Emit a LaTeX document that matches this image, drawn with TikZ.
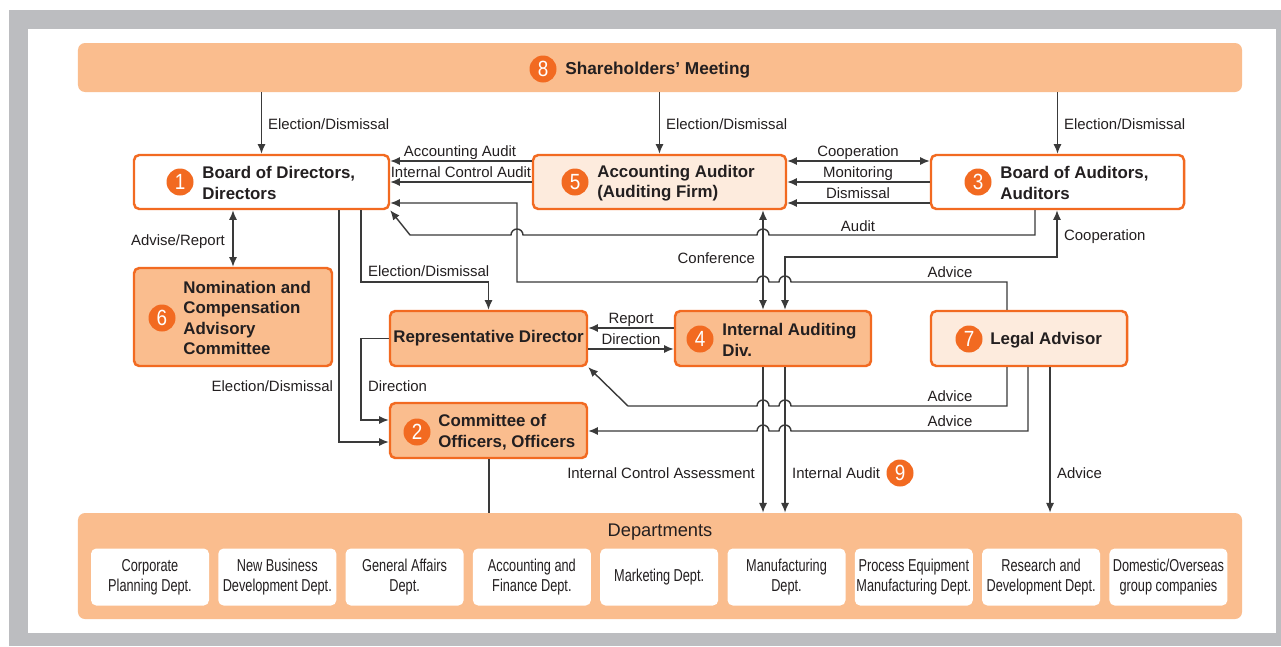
\documentclass[tikz,border=0pt]{standalone}
\usepackage{fontspec}
\setmainfont{Liberation Sans}
\newfontfamily\narrowfont[FakeStretch=0.74]{Liberation Sans}
\newfontfamily\numfont[FakeStretch=0.86]{Liberation Sans}
\usetikzlibrary{arrows.meta}

\definecolor{framegray}{HTML}{BCBDC0}
\definecolor{govorange}{HTML}{F26A21}
\definecolor{lightorange}{HTML}{FABD8E}
\definecolor{peach}{HTML}{FDEBDD}
\definecolor{linegray}{HTML}{3A3A3A}
\definecolor{ink}{HTML}{231F20}

\tikzset{
  band/.style={fill=lightorange, rounded corners=4pt, inner sep=0pt},
  box/.style={draw=govorange, line width=1.4pt, rounded corners=3pt, fill=lightorange, inner sep=0pt,
    font=\bfseries\fontsize{9.6}{11.6}\selectfont, text=ink},
  lightbox/.style={box, fill=peach},
  whitebox/.style={box, fill=white},
  deptbox/.style={fill=white, rounded corners=3pt, minimum width=23.6mm, minimum height=11.4mm, inner sep=0pt,
    align=center, font=\narrowfont\fontsize{9.8}{11.3}\selectfont, text=ink},
  num/.style={circle, fill=govorange, text=white, minimum size=5.4mm, inner sep=0pt,
    font=\numfont\fontsize{12.5}{12.5}\selectfont},
  title/.style={font=\bfseries\fontsize{9.6}{11.6}\selectfont, text=ink, align=left, anchor=west, inner sep=0pt},
  lbl/.style={font=\fontsize{8.5}{10}\selectfont, text=ink, inner sep=1pt, text height=6.3pt, text depth=0pt},
  conn/.style={draw=linegray, line width=0.8pt},
  arr/.style={conn, -{Latex[length=5.5pt,width=4.6pt]}},
  dbl/.style={conn, {Latex[length=5.5pt,width=4.6pt]}-{Latex[length=5.5pt,width=4.6pt]}}
}

\begin{document}
\begin{tikzpicture}[x=0.2mm, y=-0.2mm]
  \useasboundingbox (0,0) rectangle (1281,646);
  % frame
  \fill[framegray] (9,10) rectangle (1281,646);
  \fill[white] (28,29) rectangle (1276,633);

  % boxes
  \node[band, minimum width=232.8mm, minimum height=9.8mm] (sm) at (660,67.5) {};
  \node[band, minimum width=232.8mm, minimum height=21.2mm] (dept) at (660,566) {};
  \node[whitebox, minimum width=51mm, minimum height=10.8mm] (bod) at (261.5,182) {};
  \node[lightbox, minimum width=50.6mm, minimum height=10.8mm] (aa) at (659.5,182) {};
  \node[whitebox, minimum width=50.6mm, minimum height=10.8mm] (boa) at (1057.5,182) {};
  \node[box, minimum width=39.6mm, minimum height=19.6mm] (nom) at (233,317) {};
  \node[box, minimum width=39.4mm, minimum height=11mm] (rep) at (488.5,338.5) {Representative Director};
  \node[box, minimum width=39.2mm, minimum height=11mm] (iad) at (773,338.5) {};
  \node[lightbox, minimum width=39.2mm, minimum height=11mm] (legal) at (1029,338.5) {};
  \node[box, minimum width=39.4mm, minimum height=11mm] (coo) at (488.5,430.5) {};

  % numbers and titles
  \node[num] (n8) at (543,69) {8};
  \node[title, font=\bfseries\fontsize{9.8}{11.6}\selectfont] (smtxt) at (565,70.5) {Shareholders’ Meeting};
  \node[num] (n1) at (180,182) {1};
  \node[title] (bodtxt) at (202,183) {Board of Directors,\\Directors};
  \node[num] (n5) at (575,182) {5};
  \node[title] (aatxt) at (597,183) {Accounting Auditor\\(Auditing Firm)};
  \node[num] (n3) at (978,182) {3};
  \node[title] (boatxt) at (1000,183) {Board of Auditors,\\Auditors};
  \node[num] (n6) at (162,318) {6};
  \node[title] (nomtxt) at (183,318) {Nomination and\\Compensation\\Advisory\\Committee};
  \node[num] (n4) at (700,339) {4};
  \node[title] (iadtxt) at (722,340) {Internal Auditing\\Div.};
  \node[num] (n7) at (969,339) {7};
  \node[title] (legaltxt) at (990,340.5) {Legal Advisor};
  \node[num] (n2) at (417,432) {2};
  \node[title] (cootxt) at (438,432) {Committee of\\Officers, Officers};
  \node[num] (n9) at (900,473) {9};

  % departments
  \node[font=\fontsize{10.4}{12}\selectfont, text=ink] (depttxt) at (660,532) {Departments};
  \foreach \i/\txt in {0/{Corporate\\Planning Dept.}, 1/{New Business\\Development Dept.},
      2/{General Affairs\\Dept.}, 3/{Accounting and\\Finance Dept.}, 4/{Marketing Dept.},
      5/{Manufacturing\\Dept.}, 6/{Process Equipment\\Manufacturing Dept.},
      7/{Research and\\Development Dept.}, 8/{Domestic/Overseas\\group companies}}
    \node[deptbox] (d\i) at ({150+127.3*\i},577) {\txt};

  % shareholders' meeting
  \draw[arr] (sm.south -| bod.north) -- (bod.north);
  \draw[arr] (sm.south -| aa.north) -- (aa.north);
  \draw[arr] (sm.south -| boa.north) -- (boa.north);
  \node[lbl, anchor=west] (e1) at (266,124) {Election/Dismissal};
  \node[lbl, anchor=west] (e2) at (664,124) {Election/Dismissal};
  \node[lbl, anchor=west] (e3) at (1062,124) {Election/Dismissal};

  % accounting auditor
  \draw[arr] (aa.west |- 0,161) -- (bod.east |- 0,161);
  \draw[arr] (aa.west) -- (bod.east);
  \node[lbl] (acc) at (460,151) {Accounting Audit};
  \node[lbl] (ica) at (461,172) {Internal Control Audit};
  \draw[dbl] (aa.east |- 0,161) -- (boa.west |- 0,161);
  \draw[arr] (boa.west) -- (aa.east);
  \draw[arr] (boa.west |- 0,203) -- (aa.east |- 0,203);
  \node[lbl] (coop1) at (858,151) {Cooperation};
  \node[lbl] (mon) at (858,172) {Monitoring};
  \node[lbl] (dis) at (858,193) {Dismissal};

  % board of auditors
  \draw[arr] (boa.south -| 1035,0) -- (1035,235) -- (769,235) arc[start angle=0, end angle=-180, radius=6]
    -- (523,235) arc[start angle=0, end angle=-180, radius=6] -- (410,235) -- (bod.south east);
  \node[lbl] (aud) at (858,226) {Audit};
  \draw[dbl] (aa.south -| 763,0) -- (iad.north -| 763,0);
  \node[lbl, anchor=east] (conf) at (757,258) {Conference};
  \draw[dbl] (iad.north -| 785,0) -- (785,257) -- (1057,257) -- (boa.south -| 1057,0);
  \node[lbl, anchor=west] (coop2) at (1062,235) {Cooperation};

  % legal advisor
  \draw[arr] (legal.north -| 1007,0) -- (1007,282) -- (791,282) arc[start angle=0, end angle=-180, radius=6]
    -- (769,282) arc[start angle=0, end angle=-180, radius=6] -- (517,282) -- (517,203) -- (bod.east |- 0,203);
  \node[lbl] (adv1) at (950,272) {Advice};
  \draw[arr] (legal.south -| 1007,0) -- (1007,406) -- (791,406) arc[start angle=0, end angle=-180, radius=6]
    -- (769,406) arc[start angle=0, end angle=-180, radius=6] -- (628,406) -- (rep.south east);
  \node[lbl] (adv2) at (950,396) {Advice};
  \draw[arr] (legal.south -| 1028,0) -- (1028,431) -- (791,431) arc[start angle=0, end angle=-180, radius=6]
    -- (769,431) arc[start angle=0, end angle=-180, radius=6] -- (coo.east |- 0,431);
  \node[lbl] (adv3) at (950,421) {Advice};
  \draw[arr] (legal.south -| 1050,0) -- (dept.north -| 1050,0);
  \node[lbl, anchor=west] (adv4) at (1055,473) {Advice};

  % board of directors
  \draw[dbl] (bod.south -| 233,0) -- (nom.north -| 233,0);
  \node[lbl, anchor=east] (advrep) at (227,240) {Advise/Report};
  \draw[arr] (bod.south -| 361,0) -- (361,282) -- (rep.north |- 0,282) -- (rep.north);
  \node[lbl, anchor=west] (e4) at (366,271) {Election/Dismissal};
  \draw[arr] (bod.south -| 339,0) -- (339,442) -- (coo.west |- 0,442);
  \node[lbl, anchor=east] (e5) at (335,386) {Election/Dismissal};

  % representative director
  \draw[arr] (rep.west) -- (361,338.5) -- (361,420) -- (coo.west |- 0,420);
  \node[lbl, anchor=west] (dir1) at (366,386) {Direction};
  \draw[arr] (iad.west |- 0,328) -- (rep.east |- 0,328);
  \draw[arr] (rep.east |- 0,349) -- (iad.west |- 0,349);
  \node[lbl] (rpt) at (631,318) {Report};
  \node[lbl] (dir2) at (631,339) {Direction};

  % internal auditing
  \draw[arr] (iad.south -| 763,0) -- (dept.north -| 763,0);
  \draw[arr] (iad.south -| 785,0) -- (dept.north -| 785,0);
  \node[lbl, anchor=east] (ica2) at (757,473) {Internal Control Assessment};
  \node[lbl, anchor=west] (ia) at (790,473) {Internal Audit};
  \draw[conn] (coo.south -| 489,0) -- (dept.north -| 489,0);
\end{tikzpicture}
\end{document}
